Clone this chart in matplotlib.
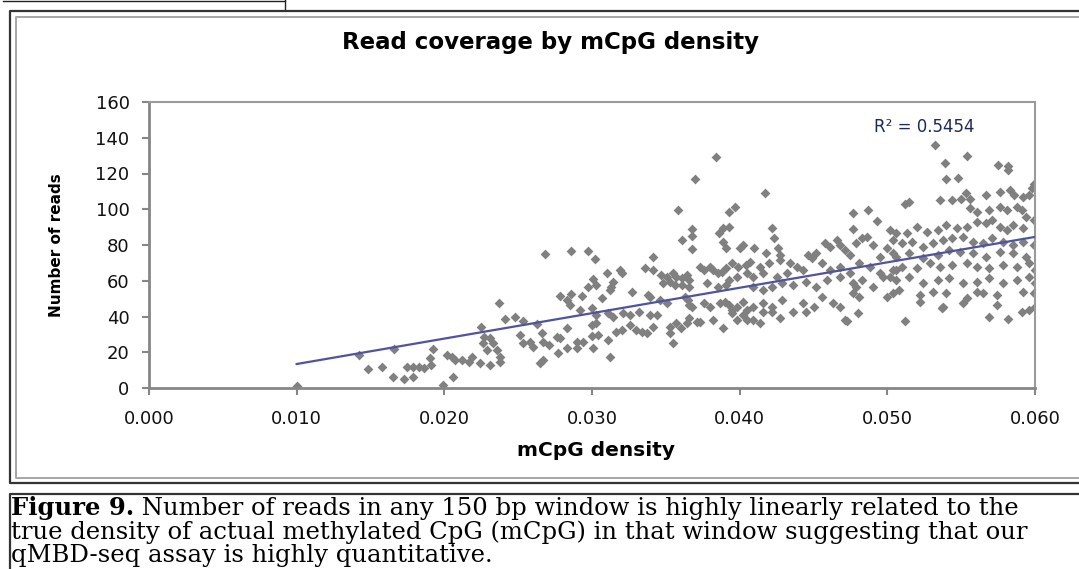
import numpy as np
import matplotlib
matplotlib.use("Agg")
import matplotlib.pyplot as plt

# mCpG density / number of reads in bands of x
density_a = [0.0100, 0.0142, 0.0148, 0.0158, 0.0165, 0.0166, 0.0173, 0.0175, 0.0179,
             0.0183, 0.0179, 0.0190, 0.0192, 0.0191, 0.0186]
reads_a = [1, 18.5, 10.6, 12, 6, 22, 5, 12, 12, 12, 6, 17, 22, 13, 11]

density_b = [0.0268, 0.0286, 0.0297, 0.0302, 0.0237, 0.0278, 0.0286, 0.0293, 0.0283, 0.0285,
             0.0297, 0.0301, 0.0303, 0.0292, 0.0300, 0.0241, 0.0248, 0.0253, 0.0225, 0.0263,
             0.0266, 0.0283, 0.0300, 0.0300, 0.0301, 0.0251, 0.0253, 0.0258, 0.0260, 0.0267,
             0.0271, 0.0276, 0.0278, 0.0277, 0.0283, 0.0290, 0.0290, 0.0294, 0.0265, 0.0267,
             0.0227, 0.0231, 0.0233, 0.0226, 0.0229, 0.0236, 0.0238, 0.0238, 0.0219, 0.0217,
             0.0212, 0.0207, 0.0205, 0.0202, 0.0224, 0.0231, 0.0206, 0.0199]
reads_b = [75, 76.6, 76.6, 72, 47.5, 51.5, 52.6, 51.5, 49, 46.4,
           56.5, 61, 57.6, 43.6, 44.8, 38.6, 39.7, 37.5, 34, 36,
           31, 33.6, 35, 29, 22.4, 29.6, 25, 25.7, 23, 25.7,
           24, 28.5, 28, 19.6, 22.4, 22.4, 25.7, 25.7, 14, 15.7,
           28.5, 28, 25, 25, 21, 21, 17.3, 14.5, 17.3, 14.5,
           15.7, 15.7, 17.3, 18.5, 14, 13, 6, 1.7]

density_c = [0.0384, 0.0370, 0.0358, 0.0397, 0.0393, 0.0368, 0.0368, 0.0361, 0.0368, 0.0389,
             0.0393, 0.0386, 0.0389, 0.0391, 0.0402, 0.0400, 0.0341, 0.0319, 0.0320, 0.0310,
             0.0314, 0.0313, 0.0312, 0.0336, 0.0341, 0.0347, 0.0351, 0.0355, 0.0357, 0.0353,
             0.0361, 0.0364, 0.0366, 0.0348, 0.0356, 0.0361, 0.0366, 0.0373, 0.0376, 0.0380,
             0.0382, 0.0385, 0.0388, 0.0391, 0.0395, 0.0399, 0.0404, 0.0398, 0.0405, 0.0378,
             0.0385, 0.0391, 0.0393, 0.0327, 0.0338, 0.0339, 0.0307, 0.0346, 0.0351, 0.0363,
             0.0365, 0.0366, 0.0368, 0.0376, 0.0380, 0.0387, 0.0390, 0.0393, 0.0395, 0.0398,
             0.0402, 0.0405, 0.0303, 0.0311, 0.0314, 0.0321, 0.0326, 0.0332, 0.0339, 0.0344,
             0.0303, 0.0304, 0.0312, 0.0316, 0.0320, 0.0311, 0.0326, 0.0330, 0.0334, 0.0337,
             0.0341, 0.0353, 0.0357, 0.0360, 0.0353, 0.0355, 0.0366, 0.0371, 0.0373, 0.0364,
             0.0382, 0.0389, 0.0395, 0.0398, 0.0402, 0.0405]
reads_c = [129, 117, 99.6, 101, 98.5, 89, 85, 83, 78, 89.5,
           90, 86.7, 81.7, 78.3, 80, 78.3, 73.3, 66, 64.3, 64.3,
           59.3, 56.5, 54.8, 67.1, 66, 63.2, 62.1, 64.3, 62.1, 59.3,
           61.5, 63.2, 60.4, 58.7, 57.6, 57.6, 56.5, 67.7, 66, 67.7,
           66, 64.3, 64.9, 67.1, 69.9, 67.7, 68.8, 62.1, 64.3, 58.7,
           56.5, 57.6, 60.4, 53.7, 52, 50.9, 50.3, 49.2, 47.6, 50.9,
           49.2, 46.4, 45.3, 47.6, 45.3, 47.6, 48.1, 46.4, 43.6, 45.3,
           48.1, 43.6, 40.8, 42, 39.7, 42, 40.8, 42.5, 40.8, 40.8,
           36.4, 29.6, 17.3, 31.3, 32.4, 26.9, 35.2, 32.4, 31.3, 30.8,
           34.1, 34.1, 36.4, 33.6, 30.8, 25.2, 39.2, 36.9, 36.9, 36.4,
           38, 33.6, 42, 38, 40.8, 38]

density_d = [0.0417, 0.0477, 0.0487, 0.0493, 0.0477, 0.0422, 0.0423, 0.0410, 0.0418, 0.0426,
             0.0427, 0.0446, 0.0449, 0.0452, 0.0458, 0.0461, 0.0466, 0.0468, 0.0471, 0.0475,
             0.0479, 0.0483, 0.0486, 0.0490, 0.0495, 0.0500, 0.0504, 0.0506, 0.0502, 0.0407,
             0.0414, 0.0420, 0.0427, 0.0434, 0.0439, 0.0443, 0.0432, 0.0425, 0.0416, 0.0409,
             0.0456, 0.0461, 0.0468, 0.0475, 0.0481, 0.0488, 0.0495, 0.0502, 0.0506, 0.0409,
             0.0416, 0.0422, 0.0429, 0.0436, 0.0445, 0.0452, 0.0459, 0.0468, 0.0477, 0.0483,
             0.0490, 0.0497, 0.0504, 0.0500, 0.0409, 0.0416, 0.0422, 0.0429, 0.0436, 0.0443,
             0.0450, 0.0456, 0.0463, 0.0468, 0.0477, 0.0479, 0.0481, 0.0445, 0.0409, 0.0414,
             0.0427, 0.0473, 0.0480, 0.0416, 0.0422, 0.0471]
reads_d = [109, 98, 99.6, 93.4, 89, 89.5, 84, 78.3, 75.5, 78.3,
           74.4, 74.4, 72.7, 75.5, 81.1, 78.9, 82.8, 80, 77.2, 74.4,
           81.1, 83.9, 84.5, 80, 73.3, 78.3, 75.5, 86.7, 88.4, 70.5,
           67.7, 69.9, 71.6, 69.9, 67.7, 66, 64.3, 62.1, 64.3, 62.1,
           69.9, 66, 67.7, 64.3, 69.9, 67.7, 64.3, 62.1, 66, 56.5,
           54.8, 56.5, 58.7, 57.6, 59.3, 56.5, 60.4, 62.1, 58.7, 60.4,
           56.5, 62.1, 53.1, 50.9, 45.3, 47.6, 45.3, 49.2, 42.5, 47.6,
           45.3, 50.9, 47.6, 45.3, 53.1, 56.5, 50.9, 42.5, 38, 36.4,
           39.2, 37.5, 42, 42.5, 42.5, 38]

density_e = [0.0532, 0.0554, 0.0539, 0.0575, 0.0582, 0.0582, 0.0540, 0.0548, 0.0599, 0.0598,
             0.0512, 0.0515, 0.0536, 0.0544, 0.0550, 0.0553, 0.0556, 0.0567, 0.0576, 0.0583,
             0.0586, 0.0592, 0.0596, 0.0556, 0.0561, 0.0569, 0.0576, 0.0581, 0.0588, 0.0591,
             0.0594, 0.0599, 0.0513, 0.0520, 0.0527, 0.0534, 0.0540, 0.0547, 0.0554, 0.0561,
             0.0567, 0.0571, 0.0576, 0.0581, 0.0585, 0.0592, 0.0504, 0.0510, 0.0517, 0.0524,
             0.0531, 0.0538, 0.0544, 0.0551, 0.0558, 0.0565, 0.0571, 0.0578, 0.0585, 0.0592,
             0.0599, 0.0506, 0.0515, 0.0524, 0.0534, 0.0542, 0.0549, 0.0558, 0.0567, 0.0576,
             0.0585, 0.0594, 0.0504, 0.0510, 0.0520, 0.0529, 0.0536, 0.0544, 0.0554, 0.0561,
             0.0569, 0.0578, 0.0588, 0.0596, 0.0600, 0.0506, 0.0515, 0.0524, 0.0534, 0.0542,
             0.0551, 0.0561, 0.0569, 0.0578, 0.0588, 0.0596, 0.0600, 0.0508, 0.0522, 0.0531,
             0.0540, 0.0554, 0.0561, 0.0565, 0.0574, 0.0592, 0.0599, 0.0522, 0.0538, 0.0551,
             0.0569, 0.0574, 0.0582, 0.0591, 0.0596, 0.0600, 0.0512, 0.0537]
reads_e = [136, 130, 126, 125, 124, 122, 117, 117.5, 114, 112,
           103, 104, 105, 105, 106, 109, 105.7, 108, 109.6, 110.8,
           108, 107, 108, 100.7, 98.5, 99.6, 101, 99.6, 101, 99.6,
           95.7, 94, 86.7, 90, 87.3, 88.4, 91.2, 89.5, 90, 92.9,
           92.3, 94, 90, 88.4, 91.2, 89.5, 82.8, 81.1, 81.7, 78.9,
           81.1, 82.8, 83.9, 84.5, 81.7, 81.1, 83.9, 81.7, 80, 81.7,
           80, 73.3, 75.5, 72.7, 74.4, 77.2, 76.1, 75.5, 73.3, 76.1,
           75.5, 73.3, 66, 67.7, 67.1, 69.9, 67.7, 68.8, 69.9, 67.7,
           67.1, 68.8, 67.7, 69.9, 66, 60.4, 62.1, 58.7, 60.4, 61.5,
           58.7, 59.3, 61.5, 58.7, 60.4, 62.1, 58.7, 54.8, 52, 53.7,
           53.1, 50.3, 53.7, 53.1, 52, 53.7, 53.1, 48.1, 45.3, 47.6,
           39.7, 46.4, 38.6, 42.5, 43.6, 45.3, 37.5, 44.8]

# linear trend shown in the chart
trend_slope = 1422.0
trend_intercept = -0.8
r_squared = "0.5454"

x_ticks = [0.000, 0.010, 0.020, 0.030, 0.040, 0.050, 0.060]
y_ticks = [0, 20, 40, 60, 80, 100, 120, 140, 160]

caption_bold = "Figure 9."
caption_lines = [" Number of reads in any 150 bp window is highly linearly related to the",
                 "true density of actual methylated CpG (mCpG) in that window suggesting that our",
                 "qMBD-seq assay is highly quantitative."]

W, H = 1079, 569
fig = plt.figure(figsize=(W / 100, H / 100), dpi=100)

# background layer in pixel coords for the document frame lines and caption
bg = fig.add_axes([0, 0, 1, 1], zorder=-1)
bg.set_xlim(0, W)
bg.set_ylim(H, 0)
bg.axis("off")
bg.plot([3, 285], [1, 1], color="#222222", lw=1.0)
bg.plot([285, 285], [0, 9], color="#222222", lw=1.0)
# chart box: dark outer frame + grey inner frame
bg.plot([W + 5, 10, 10, W + 5], [11, 11, 483, 483], color="#333333", lw=1.6)
bg.plot([W + 5, 16, 16, W + 5], [17, 17, 478, 478], color="#a6a6a6", lw=1.4)
# caption box
bg.plot([W + 5, 10, 10], [494, 494, H + 5], color="#333333", lw=1.6)

fig.text(550 / W, 1 - 42 / H, "Read coverage by mCpG density", ha="center", va="center",
         fontsize=16.5, fontweight="bold", family="DejaVu Sans")
fig.text(57 / W, 1 - 245 / H, "Number of reads", ha="center", va="center", rotation=90,
         fontsize=11, fontweight="bold", family="DejaVu Sans")
fig.text(596 / W, 1 - 450 / H, "mCpG density", ha="center", va="center",
         fontsize=14.5, fontweight="bold", family="DejaVu Sans")

ax = fig.add_axes([149 / W, 1 - 388 / H, (1035 - 149) / W, 286 / H])
all_x = np.concatenate([density_a, density_b, density_c, density_d, density_e])
all_y = np.concatenate([reads_a, reads_b, reads_c, reads_d, reads_e])
ax.scatter(all_x, all_y, marker="D", s=25, color="#808080", linewidths=0, zorder=2)

fit_x = np.array([all_x.min(), all_x.max()])
ax.plot(fit_x, trend_slope * fit_x + trend_intercept, color="#4f53a0", lw=1.6, zorder=3)
ax.text(0.0525, 146, "R² = " + r_squared, ha="center", va="center", fontsize=12,
        color="#1f2a5a", family="DejaVu Sans")

ax.set_xlim(0, 0.060)
ax.set_ylim(0, 160)
ax.set_xticks(x_ticks)
ax.set_xticklabels(["%.3f" % v for v in x_ticks])
ax.set_yticks(y_ticks)
for side in ["left", "bottom"]:
    ax.spines[side].set_linewidth(2.0)
    ax.spines[side].set_color("#868686")
for side in ["top", "right"]:
    ax.spines[side].set_linewidth(1.5)
    ax.spines[side].set_color("#9a9a9a")
ax.tick_params(axis="both", direction="out", length=5, width=1.5, color="#868686",
               labelsize=13, labelcolor="#111111")
ax.tick_params(axis="y", pad=9)
ax.tick_params(axis="x", pad=11)

# caption, bold lead then regular text
cap_size = 17.5
t0 = bg.text(11, 515, caption_bold, fontsize=cap_size, fontweight="bold", family="DejaVu Serif",
             va="baseline", ha="left")
bg.annotate(caption_lines[0], xy=(1, 0), xycoords=t0, va="bottom", ha="left",
            fontsize=cap_size, family="DejaVu Serif")
bg.text(11, 538.5, caption_lines[1], fontsize=cap_size, family="DejaVu Serif", va="baseline", ha="left")
bg.text(11, 562, caption_lines[2], fontsize=cap_size, family="DejaVu Serif", va="baseline", ha="left")

fig.savefig("out.png", dpi=100)
